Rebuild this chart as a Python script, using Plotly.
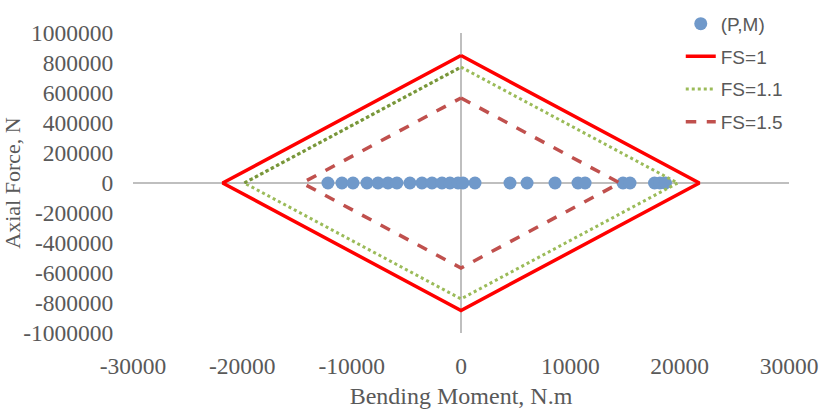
import plotly.graph_objects as go

# (P,M) points: bending moment (N.m) and axial force (N)
pm_moment = [-12170, -10890, -9880, -8600, -7590, -6680, -5860, -4670, -3570, -2650,
             -1740, -1010, -270, 180, 1280, 4480, 6040, 8600, 10700, 11350,
             14820, 15460, 17700, 18200, 18700]
pm_axial = [0] * len(pm_moment)

# Interaction diamonds
fs1_moment = [0, 21800, 0, -21800, 0]
fs1_axial = [850000, 0, -850000, 0, 850000]
fs11_moment = [0, 19820, 0, -19820, 0]
fs11_axial = [772700, 0, -772700, 0, 772700]
fs15_moment = [0, 14530, 0, -14530, 0]
fs15_axial = [566700, 0, -566700, 0, 566700]

x_tickvals = [-30000, -20000, -10000, 0, 10000, 20000, 30000]
x_ticktext = ["-30000", "-20000", "-10000", "0", "10000", "20000", "30000"]
y_tickvals = [1000000, 800000, 600000, 400000, 200000, 0, -200000, -400000,
              -600000, -800000, -1000000]
y_ticktext = ["1000000", "800000", "600000", "400000", "200000", "0", "-200000",
              "-400000", "-600000", "-800000", "-1000000"]

fig = go.Figure()
fig.add_trace(go.Scatter(x=pm_moment, y=pm_axial, mode="markers", name="(P,M)",
                         legendgroup="a",
                         marker=dict(size=13, color="#7099CA")))
fig.add_trace(go.Scatter(x=fs1_moment, y=fs1_axial, mode="lines", name="FS=1",
                         legendgroup="b",
                         line=dict(color="#FF0000", width=3.5)))
fig.add_trace(go.Scatter(x=fs11_moment, y=fs11_axial, mode="lines", name="FS=1.1",
                         legendgroup="c",
                         line=dict(color="#9BBB59", width=3, dash="dot")))
fig.add_trace(go.Scatter(x=fs11_moment[3:5], y=fs11_axial[3:5], mode="lines",
                         showlegend=False, hoverinfo="skip",
                         line=dict(color="#77933C", width=3, dash="dot")))
fig.add_trace(go.Scatter(x=fs15_moment, y=fs15_axial, mode="lines", name="FS=1.5",
                         legendgroup="d",
                         line=dict(color="#C0504D", width=3.5, dash="dash")))

tick_font = dict(family="Liberation Serif", size=23.5, color="#595959")

fig.update_layout(
    width=819, height=409,
    margin=dict(l=133, r=30, t=33, b=76, autoexpand=False),
    paper_bgcolor="white", plot_bgcolor="white",
    showlegend=True,
    legend=dict(x=0.835, y=1.094, xanchor="left", yanchor="top",
                font=dict(family="Liberation Sans", size=19, color="#595959"),
                bgcolor="rgba(0,0,0,0)", traceorder="grouped", tracegroupgap=5),
    xaxis=dict(range=[-30000, 30000], tickvals=x_tickvals, ticktext=x_ticktext,
               showgrid=False, zeroline=True, zerolinecolor="#BFBFBF", zerolinewidth=1.5,
               showline=False, ticks="outside", ticklen=12, tickcolor="rgba(0,0,0,0)",
               tickfont=tick_font, automargin=False,
               title=dict(text="Bending Moment, N.m", standoff=15,
                          font=dict(family="Liberation Serif", size=24, color="#595959"))),
    yaxis=dict(range=[-1000000, 1000000], tickvals=y_tickvals, ticktext=y_ticktext,
               showgrid=False, zeroline=True, zerolinecolor="#BFBFBF", zerolinewidth=1.5,
               showline=False, ticks="outside", ticklen=14, tickcolor="rgba(0,0,0,0)",
               tickfont=tick_font, automargin=False,
               title=dict(text="Axial Force, N", standoff=0,
                          font=dict(family="Liberation Serif", size=22, color="#595959"))),
)

fig.write_html("out.html")
